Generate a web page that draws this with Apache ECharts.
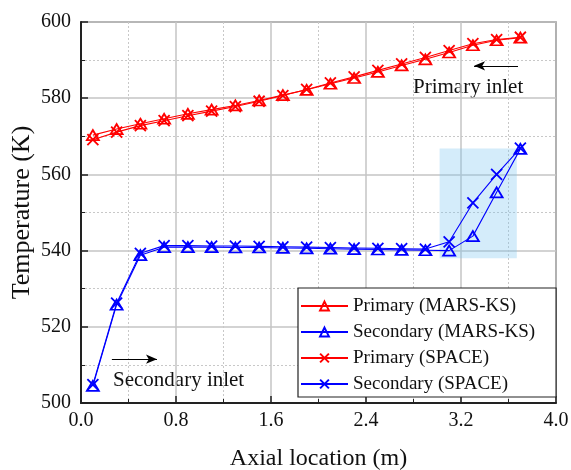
<!DOCTYPE html>
<html>
<head>
<meta charset="utf-8">
<script src="https://cdn.jsdelivr.net/npm/echarts@6/dist/echarts.min.js"></script>
<style>html,body{margin:0;padding:0;background:#fff}#c{width:571px;height:470px}</style>
</head>
<body>
<div id="c"></div>
<script>
var axialLocation = [0.1, 0.3, 0.5, 0.7, 0.9, 1.1, 1.3, 1.5, 1.7, 1.9, 2.1, 2.3, 2.5, 2.7, 2.9, 3.1, 3.3, 3.5, 3.7];
var primaryMars = [570.3, 571.9, 573.3, 574.6, 575.9, 577.0, 578.1, 579.4, 580.8, 582.2, 583.8, 585.3, 586.9, 588.6, 590.2, 592.0, 593.9, 595.2, 595.9];
var secondaryMars = [504.5, 525.8, 538.8, 540.9, 540.9, 540.9, 540.8, 540.8, 540.7, 540.6, 540.5, 540.4, 540.3, 540.2, 540.1, 540.0, 543.8, 555.3, 566.7];
var primarySpace = [569.1, 571.1, 572.8, 574.1, 575.4, 576.6, 577.8, 579.2, 580.7, 582.3, 584.0, 585.6, 587.3, 589.0, 590.7, 592.5, 594.3, 595.4, 596.0];
var secondarySpace = [504.8, 526.2, 539.3, 541.3, 541.3, 541.2, 541.2, 541.1, 541.0, 540.9, 540.8, 540.7, 540.6, 540.5, 540.4, 542.3, 552.5, 560.0, 566.9];
var seriesNames = ['Primary (MARS-KS)', 'Secondary (MARS-KS)', 'Primary (SPACE)', 'Secondary (SPACE)'];
var xTitle = 'Axial location (m)';
var yTitle = 'Temperature (K)';
var highlightBox = [[3.02, 538.0], [3.67, 566.8]];
var primaryArrow = [[3.68, 588.5], [3.31, 588.5]];
var secondaryArrow = [[0.26, 511.5], [0.64, 511.5]];

var FONT = 'Liberation Serif';
var X_SYMBOL = 'path://M0,0L10,10M10,0L0,10';

function pairs(vals) { return axialLocation.map(function (x, i) { return [x, vals[i]]; }); }

function makeSeries(name, vals, color, isTri) {
  return {
    name: name,
    type: 'line',
    data: pairs(vals),
    symbol: isTri ? 'triangle' : X_SYMBOL,
    symbolSize: isTri ? [12, 10] : [11, 11],
    showAllSymbol: true,
    lineStyle: { color: color, width: 1.1 },
    itemStyle: { color: isTri ? 'rgba(255,255,255,0)' : color, borderColor: color, borderWidth: 1.8 },
    emphasis: { disabled: true },
    animation: false
  };
}

var series = [
  makeSeries(seriesNames[0], primaryMars, '#ff0000', true),
  makeSeries(seriesNames[1], secondaryMars, '#0000ff', true),
  makeSeries(seriesNames[2], primarySpace, '#ff0000', false),
  makeSeries(seriesNames[3], secondarySpace, '#0000ff', false)
];
series[3].markArea = {
  silent: true,
  itemStyle: { color: 'rgba(120,195,240,0.32)' },
  data: [[{ coord: highlightBox[0] }, { coord: highlightBox[1] }]]
};
series[0].markLine = {
  silent: true, animation: false,
  symbol: ['none', 'arrow'], symbolSize: [7, 11],
  lineStyle: { color: '#000', width: 1, type: 'solid' },
  label: { show: false },
  data: [
    [{ coord: primaryArrow[0] }, { coord: primaryArrow[1] }],
    [{ coord: secondaryArrow[0] }, { coord: secondaryArrow[1] }]
  ]
};

var chart = echarts.init(document.getElementById('c'), null, { renderer: 'canvas' });
chart.setOption({
  animation: false,
  grid: { left: 81, right: 15, top: 22, bottom: 67, outerBoundsMode: 'none', containLabel: false, show: true, borderColor: '#222', borderWidth: 1.2, backgroundColor: 'transparent' },
  xAxis: {
    type: 'value', min: 0, max: 4, interval: 0.8,
    name: xTitle, nameLocation: 'middle', nameGap: 44,
    nameTextStyle: { fontFamily: FONT, fontSize: 24, color: '#111' },
    axisLine: { lineStyle: { color: '#222', width: 2 } },
    axisTick: { inside: true, length: 7, lineStyle: { color: '#222', width: 1.5 } },
    minorTick: { show: true, splitNumber: 2, length: 4, lineStyle: { color: '#222', width: 1 } },
    axisLabel: { fontFamily: FONT, fontSize: 20, color: '#111', margin: 8, formatter: function (v) { return v.toFixed(1); } },
    splitLine: { show: true, lineStyle: { color: '#c4c4c4', width: 1.5 } },
    minorSplitLine: { show: true, lineStyle: { color: '#c8c8c8', width: 1, type: [2, 2] } }
  },
  yAxis: {
    type: 'value', min: 500, max: 600, interval: 20,
    name: yTitle, nameLocation: 'middle', nameGap: 46, nameRotate: 90, nameMoveOverlap: false,
    nameTextStyle: { fontFamily: FONT, fontSize: 26, color: '#111' },
    axisLine: { show: true, lineStyle: { color: '#222', width: 2 } },
    axisTick: { show: true, inside: true, length: 7, lineStyle: { color: '#222', width: 1.5 } },
    minorTick: { show: true, splitNumber: 2, length: 4, lineStyle: { color: '#222', width: 1 } },
    axisLabel: { fontFamily: FONT, fontSize: 20, color: '#111', margin: 10 },
    splitLine: { show: true, lineStyle: { color: '#c4c4c4', width: 1.5 } },
    minorSplitLine: { show: true, lineStyle: { color: '#c8c8c8', width: 1, type: [2, 2] } }
  },
  legend: {
    orient: 'vertical', left: 298, top: 288,
    data: seriesNames,
    itemWidth: 47, itemHeight: 11, itemGap: 6,
    padding: [8, 21, 3, 2],
    borderColor: '#222', borderWidth: 1.2, backgroundColor: '#fff',
    textStyle: { fontFamily: FONT, fontSize: 19, color: '#111', lineHeight: 20 },
    selectedMode: false
  },
  graphic: [
    { type: 'text', left: 413, top: 77, silent: true, style: { text: 'Primary inlet', fontFamily: FONT, fontSize: 21, fill: '#111' } },
    { type: 'text', left: 113, top: 370, silent: true, style: { text: 'Secondary inlet', fontFamily: FONT, fontSize: 21, fill: '#111' } }
  ],
  series: series
});
</script>
</body>
</html>
